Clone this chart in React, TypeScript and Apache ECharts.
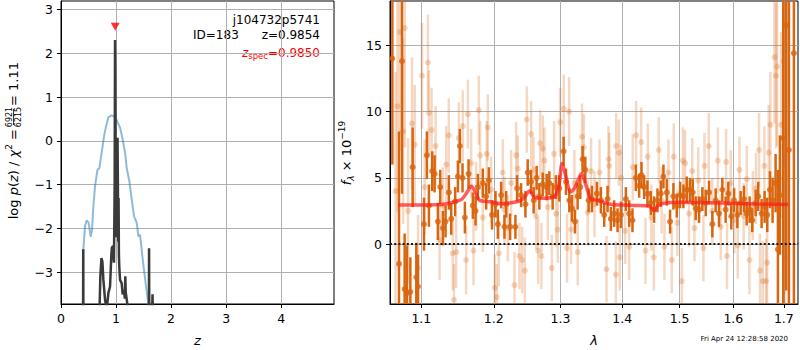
import { useEffect, useRef } from "react";
import * as echarts from "echarts";

const FONT = "DejaVu Sans";
const TICK_FS = 12.5;

// ---- tick values ----
const zTicks = [0, 1, 2, 3, 4];
const logpTicks = [-3, -2, -1, 0, 1, 2, 3];
const waveTicks = [1.1, 1.2, 1.3, 1.4, 1.5, 1.6, 1.7];
const fluxTicks = [0, 5, 10, 15];

// ---- axis ranges ----
const zRange = [0, 4.96];
const logpRange = [-3.72, 3.19];
const waveRange = [1.0594, 1.7292];
const fluxRange = [-4.52, 18.34];

// ---- annotations ----
const fieldName = "j104732p5741";
const objId = 183;
const zBest = 0.9854;
const zSpec = 0.985;
const chi2Num = 6921;
const chi2Den = 6215;
const chi2Red = 1.11;
const markerLogp = 2.6;
const timestamp = "Fri Apr 24 12:28:58 2020";

// ---- p(z) (black) ----
const pzZ = [0.3, 0.398, 0.404, 0.41, 0.5, 0.66, 0.697, 0.715, 0.735, 0.752, 0.77, 0.8, 0.83, 0.861, 0.891, 0.915, 0.925, 0.945, 0.962, 0.975, 0.982, 0.987, 0.993, 1.0, 1.006, 1.012, 1.02, 1.027, 1.033, 1.04, 1.046, 1.052, 1.06, 1.073, 1.103, 1.12, 1.145, 1.16, 1.168, 1.176, 1.194, 1.224, 1.3, 1.45, 1.57, 1.596, 1.6, 1.604, 1.655, 1.663, 1.672, 1.75, 2.0];
const pzLog = [-12, -6, -2.47, -6, -12, -7, -4.0, -3.09, -2.67, -2.75, -3.17, -3.62, -3.85, -3.47, -3.32, -2.6, -2.43, -2.4, -2.78, -1.0, 2.3, 1.5, -1.8, -1.2, -2.2, -0.8, -1.6, 0.07, -0.9, -2.3, -1.3, -2.6, -2.9, -3.17, -3.25, -3.5, -3.4, -3.6, -3.09, -3.45, -3.62, -3.9, -6, -8, -6, -4.5, -2.45, -4.5, -3.9, -3.5, -4.2, -8, -12];

// ---- chi2-based curve (blue) ----
const chiZ = [0.395, 0.406, 0.436, 0.467, 0.503, 0.539, 0.564, 0.588, 0.618, 0.661, 0.697, 0.739, 0.782, 0.818, 0.861, 0.921, 0.982, 1.024, 1.073, 1.121, 1.164, 1.194, 1.242, 1.285, 1.327, 1.376, 1.406, 1.436, 1.485, 1.545, 1.588, 1.61];
const chiLog = [-4.5, -2.48, -1.95, -1.81, -1.87, -2.19, -2.02, -1.49, -1.04, -0.67, -0.62, -0.27, 0.11, 0.33, 0.54, 0.58, 0.54, 0.44, 0.3, 0.03, -0.27, -0.62, -0.92, -1.34, -1.72, -1.87, -2.18, -2.14, -2.71, -3.32, -3.72, -4.5];

// ---- model spectrum (red) ----
const modelWave = [1.07, 1.1, 1.13, 1.145, 1.155, 1.162, 1.168, 1.174, 1.18, 1.195, 1.21, 1.23, 1.243, 1.2525, 1.26, 1.27, 1.285, 1.293, 1.298, 1.3025, 1.308, 1.3164, 1.323, 1.3335, 1.34, 1.3495, 1.36, 1.38, 1.4, 1.42, 1.445, 1.4551, 1.462, 1.475, 1.5, 1.55, 1.6, 1.65, 1.709];
const modelFlux = [2.94, 2.95, 3.0, 3.2, 3.4, 3.9, 4.37, 3.9, 3.3, 3.2, 3.05, 3.15, 3.4, 4.0, 3.55, 3.45, 3.5, 3.7, 4.5, 6.08, 5.2, 3.94, 4.3, 5.33, 4.5, 3.37, 3.3, 3.0, 2.95, 2.92, 2.88, 2.56, 2.95, 3.1, 3.15, 3.12, 3.08, 3.02, 2.99];

// ---- binned spectrum (dark): [wave, flux, err] ----
const darkPoints = [
  [1.0624, 14.0, 8.0], [1.0709, -1.5, 10.0], [1.0748, 13.8, 10.0], [1.0782, -3.4, 4.2], [1.0812, -3.7, 3.6],
  [1.0856, -3.6, 2.6], [1.0886, 5.8, 3.0], [1.0934, -2.5, 2.6], [1.0956, -3.2, 2.4], [1.1035, 1.5, 2.0],
  [1.1074, 6.7, 1.8], [1.1101, 2.9, 1.6], [1.1145, 5.5, 1.5], [1.1177, 5.3, 1.4], [1.1221, 1.7, 1.4],
  [1.1253, 4.3, 1.3], [1.1289, 1.2, 1.3], [1.1325, 1.7, 1.2], [1.137, 3.9, 1.3], [1.1402, 1.9, 1.2],
  [1.1457, 3.2, 1.1], [1.1494, 5.1, 1.2], [1.1521, 7.4, 1.3], [1.1558, 5.0, 1.1], [1.1591, 2.0, 1.2],
  [1.1642, 5.3, 1.1], [1.1702, 2.9, 1.0], [1.174, 2.5, 1.1], [1.1773, 4.3, 1.0], [1.1843, 4.6, 1.1],
  [1.1891, 3.6, 1.0], [1.1929, 4.8, 1.0], [1.1975, 2.2, 1.1], [1.2025, 3.0, 1.0], [1.2059, 1.5, 1.1],
  [1.2107, 3.7, 1.0], [1.2155, 1.3, 0.9], [1.218, 3.0, 1.0], [1.2238, 1.3, 1.0], [1.2316, 1.3, 0.9],
  [1.2341, 4.2, 1.0], [1.24, 3.7, 0.9], [1.2465, 3.0, 1.0], [1.2499, 5.4, 1.0], [1.2549, 4.7, 0.9],
  [1.2589, 3.3, 1.0], [1.2634, 5.0, 0.9], [1.2675, 3.6, 1.0], [1.2726, 4.5, 0.9], [1.2787, 4.3, 1.0],
  [1.2828, 4.6, 0.9], [1.2879, 3.6, 1.0], [1.2931, 4.3, 0.9], [1.2983, 4.2, 1.0], [1.305, 7.0, 1.1],
  [1.3087, 4.7, 1.0], [1.3139, 3.3, 0.9], [1.3181, 2.7, 1.0], [1.3229, 1.7, 0.9], [1.3271, 3.6, 1.0],
  [1.3314, 4.3, 0.9], [1.3351, 6.4, 1.0], [1.3394, 5.6, 1.0], [1.3448, 3.3, 0.9], [1.3501, 3.4, 1.0],
  [1.3582, 3.8, 0.9], [1.3648, 3.3, 1.0], [1.3702, 2.2, 0.9], [1.3757, 3.4, 1.0], [1.3812, 1.9, 0.9],
  [1.3867, 2.3, 1.0], [1.3923, 1.8, 0.9], [1.3979, 2.2, 1.0], [1.4063, 3.4, 0.9], [1.4119, 2.3, 1.0],
  [1.4175, 1.8, 0.9], [1.4232, 5.0, 1.0], [1.4289, 4.4, 0.9], [1.4329, 5.2, 1.0], [1.4375, 4.3, 0.9],
  [1.4432, 3.8, 1.0], [1.449, 3.1, 0.9], [1.4548, 2.6, 1.0], [1.4607, 3.3, 0.9], [1.4665, 3.8, 1.0],
  [1.4712, 5.1, 0.9], [1.4771, 3.9, 1.0], [1.483, 1.7, 0.9], [1.4889, 3.6, 1.0], [1.4949, 2.9, 0.9],
  [1.5009, 3.7, 1.0], [1.5069, 3.6, 0.9], [1.5129, 4.1, 1.0], [1.519, 4.1, 0.9], [1.5239, 3.9, 1.0],
  [1.5293, 2.7, 0.9], [1.5355, 2.6, 1.0], [1.5416, 3.4, 0.9], [1.5478, 3.1, 1.0], [1.554, 3.9, 0.9],
  [1.5602, 1.5, 1.0], [1.5664, 3.3, 0.9], [1.5727, 2.3, 1.0], [1.579, 4.1, 0.9], [1.5853, 2.6, 1.0],
  [1.5904, 3.8, 0.9], [1.5961, 2.1, 1.0], [1.6013, 3.3, 0.9], [1.6077, 2.2, 1.0], [1.6141, 3.1, 0.9],
  [1.6206, 3.4, 1.0], [1.6258, 2.3, 0.9], [1.6316, 2.6, 1.0], [1.6368, 1.8, 0.9], [1.6434, 3.1, 1.0],
  [1.6486, 3.6, 1.1], [1.6552, 2.3, 1.1], [1.6612, 2.8, 1.2], [1.6665, 2.2, 1.3], [1.6719, 4.1, 1.4],
  [1.6772, 3.3, 1.7], [1.6833, 4.6, 2.2], [1.688, -0.4, 6.0], [1.692, 3.7, 4.5], [1.6988, 8.0, 14.0],
  [1.7049, 16.5, 20.0], [1.7104, 7.1, 20.0], [1.7207, 14.4, 20.0],
];

// ---- unbinned spectrum (light): [wave, flux, err] ----
const lightPoints = [
  [1.0665, 4.0, 9.0], [1.069, 10.4, 8.0], [1.0718, 16.0, 9.0], [1.0761, 8.5, 7.0], [1.0783, 16.3, 9.0],
  [1.0826, 2.5, 5.5], [1.0878, 9.1, 5.0], [1.0913, 7.5, 4.5], [1.0957, -1.8, 4.0], [1.1009, 12.7, 4.0],
  [1.1044, 4.3, 3.6], [1.1088, 13.7, 3.6], [1.1101, 9.9, 3.2], [1.1137, 8.6, 3.2], [1.119, 7.4, 3.0],
  [1.1244, 0.3, 3.0], [1.1288, 2.9, 2.9], [1.1333, 6.0, 2.9], [1.1369, 8.2, 2.8], [1.1424, -0.7, 2.8],
  [1.144, -4.2, 2.7], [1.147, -0.6, 2.7], [1.1507, 8.0, 2.7], [1.1562, 8.9, 2.7], [1.1608, -1.2, 2.6],
  [1.1632, 9.8, 2.6], [1.1678, 6.1, 2.6], [1.1711, -0.5, 2.6], [1.1748, 3.6, 2.6], [1.1786, 10.1, 2.6],
  [1.1805, 6.7, 2.6], [1.1843, 2.0, 2.6], [1.19, 6.8, 2.5], [1.1914, 8.8, 2.5], [1.1962, 4.1, 2.5],
  [1.2015, -3.3, 2.5], [1.2044, -4.0, 2.5], [1.2073, -0.7, 2.5], [1.2131, 5.4, 2.5], [1.2155, 2.6, 2.5],
  [1.2204, 1.2, 2.5], [1.2253, 4.6, 2.5], [1.2302, -3.1, 2.5], [1.2327, 6.7, 2.5], [1.2351, 5.7, 2.5],
  [1.2376, -0.9, 2.5], [1.2416, -1.2, 2.5], [1.2456, -2.0, 2.5], [1.2486, 9.4, 2.5], [1.2551, 8.3, 2.5],
  [1.2586, 5.6, 2.5], [1.2627, 2.1, 2.5], [1.2657, -0.5, 2.5], [1.2687, 7.6, 2.5], [1.2707, -0.9, 2.5],
  [1.2728, 7.2, 2.5], [1.2753, 6.3, 2.5], [1.2804, 2.8, 2.5], [1.2866, -1.8, 2.5], [1.2902, 6.8, 2.5],
  [1.2933, 2.3, 2.5], [1.2959, 1.1, 2.5], [1.2995, 9.2, 2.6], [1.3052, 10.2, 2.6], [1.3104, -0.3, 2.6],
  [1.3136, 10.0, 2.6], [1.3167, 1.1, 2.6], [1.322, 4.6, 2.5], [1.3273, -0.6, 2.5], [1.3342, 8.1, 2.5],
  [1.3369, 7.3, 2.5], [1.3433, 2.4, 2.5], [1.3487, 5.5, 2.5], [1.3543, 3.0, 2.5], [1.3625, 5.4, 2.5],
  [1.374, -1.9, 2.5], [1.3773, 6.4, 2.5], [1.3784, 5.9, 2.5], [1.3895, -2.3, 2.5], [1.3901, 7.4, 2.5],
  [1.3945, 6.9, 2.5], [1.396, -1.0, 2.5], [1.3983, 5.0, 2.5], [1.405, 1.0, 2.5], [1.4118, -0.2, 2.5],
  [1.418, 5.8, 2.5], [1.4237, 8.2, 2.6], [1.4323, 7.7, 2.6], [1.4398, -0.5, 2.5], [1.4438, 6.6, 2.5],
  [1.45, 2.0, 2.5], [1.4543, -1.0, 2.5], [1.463, 7.1, 2.5], [1.468, 3.3, 2.5], [1.473, -0.2, 2.5],
  [1.48, 5.4, 2.5], [1.486, -1.2, 2.5], [1.4895, 6.6, 2.5], [1.496, 1.6, 2.5], [1.504, -2.8, 2.5],
  [1.506, 6.3, 2.5], [1.51, 6.1, 2.5], [1.517, 2.3, 2.5], [1.523, 5.5, 2.5], [1.527, 1.2, 2.5],
  [1.534, 4.8, 2.5], [1.5436, -0.3, 2.5], [1.5455, 5.9, 2.5], [1.5535, 7.4, 2.5], [1.56, 2.5, 2.5],
  [1.5704, 6.3, 2.5], [1.576, 1.3, 2.5], [1.5862, 6.2, 2.5], [1.588, -0.9, 2.5], [1.595, 4.6, 2.5],
  [1.602, 1.8, 2.5], [1.6085, -0.1, 2.5], [1.6118, 5.6, 2.5], [1.62, 2.1, 2.5], [1.626, 4.9, 2.5],
  [1.6312, -1.2, 2.6], [1.638, 2.9, 2.6], [1.644, 4.2, 2.7], [1.6502, 7.1, 2.8], [1.652, -2.0, 2.8],
  [1.6575, -2.8, 3.0], [1.6608, 5.9, 3.0], [1.6642, -2.8, 3.2], [1.6662, -1.4, 3.4], [1.6695, 6.9, 3.6],
  [1.6729, 9.0, 4.0], [1.6809, 14.1, 5.0], [1.6843, 12.7, 5.5], [1.6863, 13.4, 6.0], [1.6944, 9.0, 7.0],
  [1.6998, 13.8, 8.0], [1.7026, -1.1, 9.0],
];

const DARK = "#d9650f";
const LIGHT_BAR = "rgba(217,101,15,0.25)";
const LIGHT_DOT = "rgba(217,101,15,0.33)";
const GRID = "#b0b0b0";

const minus = (v: number) => (v < 0 ? "\u2212" + Math.abs(v) : String(v));
const lg = (v: number) => Math.log10(v);

function errBarSeries(points: number[][], color: string, width: number, z: number) {
  return {
    type: "custom",
    xAxisIndex: 1,
    yAxisIndex: 1,
    clip: true,
    silent: true,
    z,
    data: points.map((p) => [lg(p[0]), p[1], p[2]]),
    encode: { x: 0, y: 1 },
    renderItem: (_params: any, api: any) => {
      const x = api.value(0);
      const y = api.value(1);
      const e = api.value(2);
      const a = api.coord([x, y - e]);
      const b = api.coord([x, y + e]);
      return {
        type: "line",
        shape: { x1: a[0], y1: a[1], x2: b[0], y2: b[1] },
        style: { stroke: color, lineWidth: width },
      };
    },
  };
}

function baseAxis(extra: any) {
  return {
    type: "value",
    axisLine: { show: true, onZero: false, lineStyle: { color: "#000", width: 1 } },
    splitLine: { show: true, lineStyle: { color: GRID, width: 1 } },
    ...extra,
  };
}

function ticks(values: number[]) {
  return { show: true, inside: false, length: 4, customValues: values, lineStyle: { color: "#000", width: 1 } };
}

function labels(values: number[], formatter: (v: number) => string) {
  return { customValues: values, formatter, color: "#000", fontSize: TICK_FS, fontFamily: FONT, margin: 8 };
}

export default function App() {
  const ref = useRef<HTMLDivElement>(null);

  useEffect(() => {
    if (!ref.current) return;
    const chart = echarts.init(ref.current, undefined, { renderer: "svg" });

    const option: any = {
      animation: false,
      backgroundColor: "#fff",
      textStyle: { fontFamily: FONT },
      grid: [
        { left: 61, top: 1, width: 273, height: 303, show: true, borderColor: "#000", borderWidth: 1, backgroundColor: "transparent", outerBoundsMode: "none" },
        { left: 390, top: 1, width: 408, height: 303, show: true, borderColor: "#000", borderWidth: 1, backgroundColor: "transparent", outerBoundsMode: "none" },
      ],
      xAxis: [
        baseAxis({
          gridIndex: 0,
          min: zRange[0],
          max: zRange[1],
          axisTick: ticks(zTicks),
          axisLabel: labels(zTicks, (v) => String(v)),
          name: "z",
          nameLocation: "middle",
          nameGap: 30,
          nameTextStyle: { fontStyle: "italic", fontSize: 13, color: "#000", fontFamily: FONT },
        }),
        baseAxis({
          gridIndex: 1,
          min: lg(waveRange[0]),
          max: lg(waveRange[1]),
          axisTick: ticks(waveTicks.map(lg)),
          axisLabel: labels(waveTicks.map(lg), (v) => Math.pow(10, v).toFixed(1)),
          name: "λ",
          nameLocation: "middle",
          nameGap: 30,
          nameTextStyle: { fontStyle: "italic", fontSize: 13, color: "#000", fontFamily: FONT },
        }),
      ],
      yAxis: [
        baseAxis({
          gridIndex: 0,
          min: logpRange[0],
          max: logpRange[1],
          axisTick: ticks(logpTicks),
          axisLabel: labels(logpTicks, minus),
        }),
        baseAxis({
          gridIndex: 1,
          min: fluxRange[0],
          max: fluxRange[1],
          axisTick: ticks(fluxTicks),
          axisLabel: labels(fluxTicks, minus),
        }),
      ],
      series: [
        {
          type: "line",
          xAxisIndex: 0,
          yAxisIndex: 0,
          data: chiZ.map((z, i) => [z, chiLog[i]]),
          showSymbol: false,
          clip: true,
          silent: true,
          z: 2,
          lineStyle: { color: "rgba(31,119,180,0.5)", width: 2 },
        },
        {
          type: "line",
          xAxisIndex: 0,
          yAxisIndex: 0,
          data: pzZ.map((z, i) => [z, pzLog[i]]),
          showSymbol: false,
          clip: true,
          silent: true,
          z: 3,
          lineStyle: { color: "#3a3a3a", width: 2.5 },
        },
        {
          type: "scatter",
          xAxisIndex: 0,
          yAxisIndex: 0,
          data: [[zSpec, markerLogp]],
          symbol: "triangle",
          symbolRotate: 180,
          symbolSize: [9, 8],
          silent: true,
          z: 4,
          itemStyle: { color: "#ff0000" },
        },
        errBarSeries(lightPoints, LIGHT_BAR, 2.5, 2),
        {
          type: "scatter",
          xAxisIndex: 1,
          yAxisIndex: 1,
          data: lightPoints.map((p) => [lg(p[0]), p[1]]),
          symbolSize: 6,
          silent: true,
          z: 3,
          itemStyle: { color: LIGHT_DOT },
        },
        errBarSeries(darkPoints, DARK, 2.5, 4),
        {
          type: "scatter",
          xAxisIndex: 1,
          yAxisIndex: 1,
          data: darkPoints.map((p) => [lg(p[0]), p[1]]),
          symbolSize: 6,
          silent: true,
          z: 5,
          itemStyle: { color: DARK },
        },
        {
          type: "line",
          xAxisIndex: 1,
          yAxisIndex: 1,
          data: modelWave.map((w, i) => [lg(w), modelFlux[i]]),
          showSymbol: false,
          smooth: 0.3,
          clip: true,
          silent: true,
          z: 6,
          lineStyle: { color: "rgba(255,25,25,0.7)", width: 3.5 },
        },
        {
          type: "line",
          xAxisIndex: 1,
          yAxisIndex: 1,
          data: [[lg(waveRange[0]), 0], [lg(waveRange[1]), 0]],
          showSymbol: false,
          clip: true,
          silent: true,
          z: 7,
          lineStyle: { color: "#1a1a1a", width: 2, type: [2, 2.2] },
        },
      ],
      graphic: [
        {
          type: "text",
          x: 320,
          y: 20,
          style: { text: fieldName, fontSize: 12, fontFamily: FONT, fill: "#000", align: "right", verticalAlign: "middle" },
        },
        {
          type: "text",
          x: 320,
          y: 34.5,
          style: { text: `ID=${objId}      z=${zBest.toFixed(4)}`, fontSize: 12, fontFamily: FONT, fill: "#000", align: "right", verticalAlign: "middle" },
        },
        {
          type: "text",
          x: 320,
          y: 53,
          style: {
            text: `{i|z}{s|spec}{n|=${zSpec.toFixed(4)}}`,
            fontSize: 12,
            fontFamily: FONT,
            fill: "#ff0000",
            align: "right",
            verticalAlign: "middle",
            rich: {
              i: { fontSize: 12, fontStyle: "italic", fill: "#ff0000", fontFamily: FONT, lineHeight: 15, verticalAlign: "middle" },
              s: { fontSize: 8.5, fill: "#ff0000", fontFamily: FONT, lineHeight: 9, verticalAlign: "bottom" },
              n: { fontSize: 12, fill: "#ff0000", fontFamily: FONT, lineHeight: 15, verticalAlign: "middle" },
            },
          },
        },
        {
          type: "group",
          x: 13,
          y: 150,
          rotation: Math.PI / 2,
          children: [
            {
              type: "text",
              x: 21,
              y: 0,
              style: {
                text: "{n|log }{i|p}{n|(}{i|z}{n|) / }{i|χ}{s|2}{n| =}",
                fontSize: 13,
                fontFamily: FONT,
                fill: "#000",
                align: "right",
                verticalAlign: "middle",
                rich: {
                  n: { fontSize: 13, fontFamily: FONT, fill: "#000", lineHeight: 18, verticalAlign: "middle" },
                  i: { fontSize: 13, fontFamily: FONT, fontStyle: "italic", fill: "#000", lineHeight: 18, verticalAlign: "middle" },
                  s: { fontSize: 9, fontFamily: FONT, fill: "#000", lineHeight: 9, verticalAlign: "top" },
                },
              },
            },
            {
              type: "text",
              x: 33,
              y: -4,
              style: { text: String(chi2Num), fontSize: 8, fontFamily: FONT, fill: "#000", align: "center", verticalAlign: "middle" },
            },
            {
              type: "line",
              shape: { x1: 25, y1: 0.5, x2: 41, y2: 0.5 },
              style: { stroke: "#000", lineWidth: 0.8 },
            },
            {
              type: "text",
              x: 33,
              y: 5,
              style: { text: String(chi2Den), fontSize: 8, fontFamily: FONT, fill: "#000", align: "center", verticalAlign: "middle" },
            },
            {
              type: "text",
              x: 44,
              y: 0,
              style: { text: `= ${chi2Red.toFixed(2)}`, fontSize: 13, fontFamily: FONT, fill: "#000", align: "left", verticalAlign: "middle" },
            },
          ],
        },
        {
          type: "text",
          x: 346,
          y: 153,
          rotation: Math.PI / 2,
          style: {
            text: "{i|f}{b|λ}{n| × 10}{s|\u221219}",
            fontSize: 13,
            fontFamily: FONT,
            fill: "#000",
            align: "center",
            verticalAlign: "middle",
            rich: {
              n: { fontSize: 13, fontFamily: FONT, fill: "#000", lineHeight: 18, verticalAlign: "middle" },
              i: { fontSize: 13, fontFamily: FONT, fontStyle: "italic", fill: "#000", lineHeight: 18, verticalAlign: "middle" },
              b: { fontSize: 9, fontFamily: FONT, fontStyle: "italic", fill: "#000", lineHeight: 9, verticalAlign: "bottom" },
              s: { fontSize: 9, fontFamily: FONT, fill: "#000", lineHeight: 9, verticalAlign: "top" },
            },
          },
        },
        {
          type: "text",
          x: 788,
          y: 339,
          style: { text: timestamp, fontSize: 7, fontFamily: FONT, fill: "#000", align: "right", verticalAlign: "middle" },
        },
      ],
    };

    chart.setOption(option);
    return () => chart.dispose();
  }, []);

  return (
    <div
      ref={ref}
      style={{ position: "fixed", left: 0, top: 0, width: 800, height: 350, background: "#fff" }}
    />
  );
}
